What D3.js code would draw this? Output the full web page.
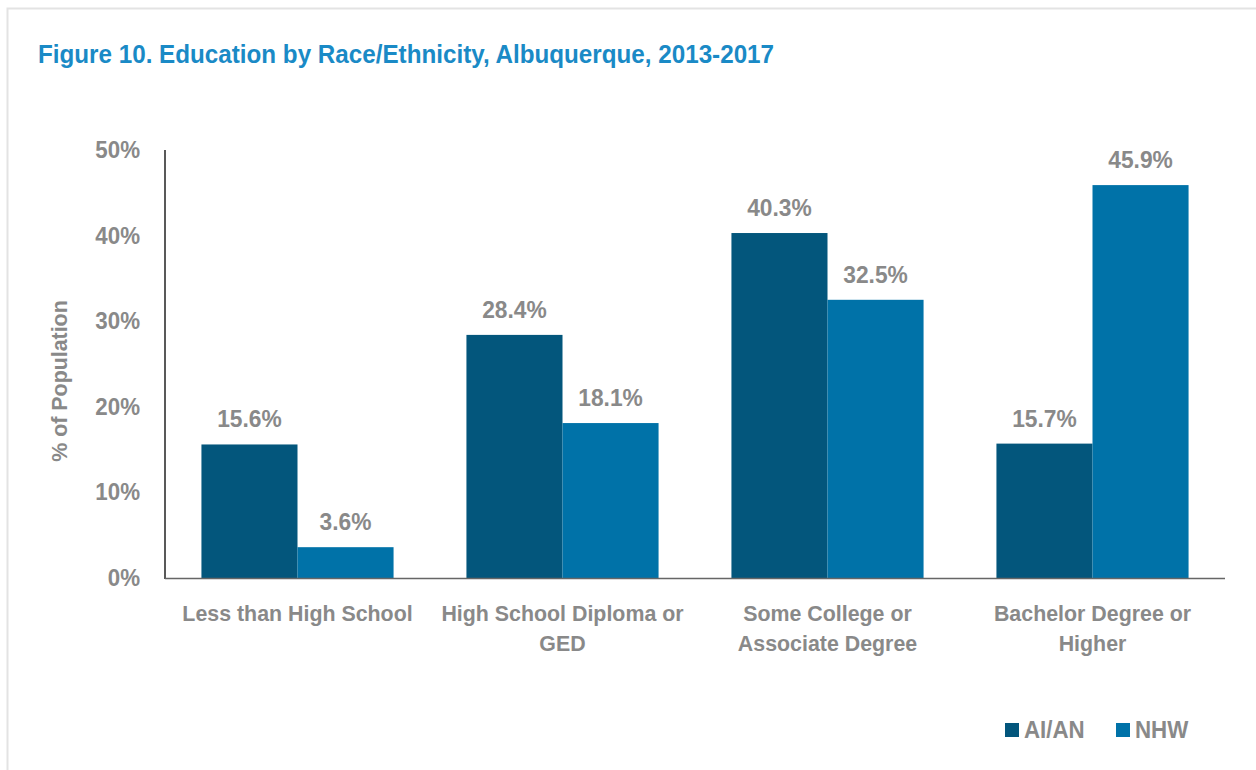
<!DOCTYPE html>
<html><head><meta charset="utf-8">
<script src="https://cdn.jsdelivr.net/npm/d3@7"></script>
<style>
body{margin:0;background:#fff;}
text{font-family:"Liberation Sans Narrow","Arial Narrow","Liberation Sans",Arial,sans-serif;font-weight:bold;}
</style></head>
<body><svg id="c" width="1256" height="770"></svg>
<script>
const categories = [["Less than High School"],["High School Diploma or","GED"],["Some College or","Associate Degree"],["Bachelor Degree or","Higher"]];
const seriesNames = ["AI/AN","NHW"];
const aian = [15.6, 28.4, 40.3, 15.7];
const nhw = [3.6, 18.1, 32.5, 45.9];
const yTicks = [0,10,20,30,40,50];
const yTitle = "% of Population";
const title = "Figure 10. Education by Race/Ethnicity, Albuquerque, 2013-2017";
const colors = ["#03567c","#0072a8"];
const gray = "#898989";
const SX = 0.95;

const svg = d3.select("#c");
function txt(x, y, str, size, anchor, fill, rot){
  const t = svg.append("text")
    .attr("transform", `translate(${x},${y})` + (rot?` rotate(${rot})`:"") + ` scale(${SX},1)`)
    .attr("text-anchor", anchor).attr("fill", fill).attr("font-size", size);
  if (Array.isArray(str)) str.forEach((l,j)=>t.append("tspan").attr("x",0).attr("dy",j?30:0).text(l));
  else t.text(str);
  return t;
}

svg.append("rect").attr("x",7.5).attr("y",8.5).attr("width",1270).attr("height",800)
  .attr("fill","none").attr("stroke","#e3e3e3").attr("stroke-width",2);

txt(38, 63, title, 25.5, "start", "#1a8ac6");

const x0 = 165, x1 = 1225, yTop = 150, yBot = 578;
const x = d3.scaleBand().domain(d3.range(categories.length)).range([x0,x1]).paddingInner(0.275).paddingOuter(0.1375);
const xs = d3.scaleBand().domain([0,1]).range([0,x.bandwidth()]);
const y = d3.scaleLinear().domain([0,50]).range([yBot,yTop]);

// y tick labels
yTicks.forEach(v=>txt(140, y(v)+8, v+"%", 23.5, "end", gray));
txt(67, 381, yTitle, 22.5, "middle", gray, -90);

const data = [aian, nhw];
data.forEach((vals,s)=>{
  svg.append("g").selectAll("rect").data(vals).enter().append("rect")
    .attr("x",(d,i)=>x(i)+xs(s)).attr("width",xs.bandwidth())
    .attr("y",d=>y(d)).attr("height",d=>yBot-y(d)).attr("fill",colors[s]);
  vals.forEach((d,i)=>txt(x(i)+xs(s)+xs.bandwidth()/2, y(d)-17, d.toFixed(1)+"%", 24, "middle", gray));
});

// axes lines
svg.append("line").attr("x1",x0).attr("x2",x0).attr("y1",yTop).attr("y2",yBot+1).attr("stroke","#222").attr("stroke-width",1.5);
svg.append("line").attr("x1",x0).attr("x2",x1).attr("y1",yBot+0.5).attr("y2",yBot+0.5).attr("stroke","#666").attr("stroke-width",1.5);

// category labels
categories.forEach((lines,i)=>txt(x(i)+x.bandwidth()/2, 621, lines, 22.5, "middle", gray));

// legend
const legX = [1005, 1116];
seriesNames.forEach((n,i)=>{
  svg.append("rect").attr("x",legX[i]).attr("y",723).attr("width",14).attr("height",14).attr("fill",colors[i]);
  txt(legX[i]+19, 738, n, 23.5, "start", gray);
});
</script></body></html>
